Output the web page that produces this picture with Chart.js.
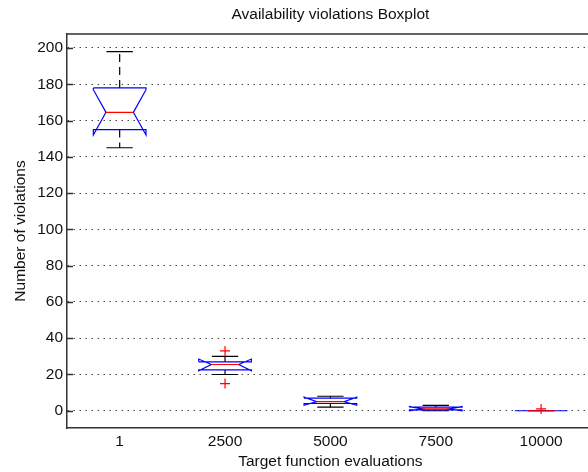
<!DOCTYPE html>
<html>
<head>
<meta charset="utf-8">
<script src="https://cdn.jsdelivr.net/npm/chart.js@4/dist/chart.umd.min.js"></script>
<style>
  html, body { margin: 0; padding: 0; background: #fff; overflow: hidden; }
  #wrap { width: 600px; height: 472px; }
</style>
</head>
<body>
<div id="wrap"><canvas id="boxChart"></canvas></div>
<script>
// group labels and positions along x
const categories = ['1', '2500', '5000', '7500', '10000'];
const positions = [1, 2, 3, 4, 5];

// box statistics for each group
const whiskerLow  = [145, 20, 2, 0, 0];
const q1          = [155, 22.5, 4, 0.5, 0];
const median      = [164.5, 25.5, 5, 1, 0];
const q3          = [178, 27, 7, 2, 0];
const whiskerHigh = [198, 30, 8, 3, 0];
const notchLow    = [152, 22, 3, 0, 0];
const notchHigh   = [177, 28.5, 7.5, 2.3, 0];
const outliers    = [[], [33, 15], [], [], [1]];

const yTicks = [0, 20, 40, 60, 80, 100, 120, 140, 160, 180, 200];

const boxHalf = 0.25, notchHalf = 0.13, capHalf = 0.125;
const FONT = "'Liberation Sans', Arial, sans-serif";
const FSIZE = 15.5;

// notched box outline, one closed path per group, split by null points
const boxPts = [];
const medPts = [];
const whiskPts = [];
const capPts = [];
const outPts = [];
positions.forEach((x, i) => {
    const l = x - boxHalf, r = x + boxHalf;
    const nl = x - notchHalf, nr = x + notchHalf;
    boxPts.push(
        {x: l, y: q3[i]}, {x: l, y: notchHigh[i]}, {x: nl, y: median[i]},
        {x: l, y: notchLow[i]}, {x: l, y: q1[i]}, {x: r, y: q1[i]},
        {x: r, y: notchLow[i]}, {x: nr, y: median[i]}, {x: r, y: notchHigh[i]},
        {x: r, y: q3[i]}, {x: l, y: q3[i]}, {x: x, y: null}
    );
    medPts.push({x: nl, y: median[i]}, {x: nr, y: median[i]}, {x: x, y: null});
    whiskPts.push(
        {x: x, y: q3[i]}, {x: x, y: whiskerHigh[i]}, {x: x, y: null},
        {x: x, y: q1[i]}, {x: x, y: whiskerLow[i]}, {x: x, y: null}
    );
    capPts.push(
        {x: x - capHalf, y: whiskerHigh[i]}, {x: x + capHalf, y: whiskerHigh[i]}, {x: x, y: null},
        {x: x - capHalf, y: whiskerLow[i]}, {x: x + capHalf, y: whiskerLow[i]}, {x: x, y: null}
    );
    outliers[i].forEach(v => outPts.push({x: x, y: v}));
});

function lineSet(data, color, order, dash) {
    return {
        type: 'line', data: data, borderColor: color, borderWidth: 1.2,
        borderDash: dash || [], pointRadius: 0, tension: 0, spanGaps: false,
        fill: false, order: order
    };
}

// axes frame: top edge plus inward tick marks on the left
const framePlugin = {
    id: 'frame',
    afterDraw(chart) {
        const {ctx, chartArea, scales} = chart;
        ctx.save();
        ctx.strokeStyle = '#333';
        ctx.lineWidth = 1.5;
        ctx.beginPath();
        ctx.moveTo(chartArea.left, chartArea.top);
        ctx.lineTo(chartArea.right, chartArea.top);
        yTicks.forEach(v => {
            const y = Math.round(scales.y.getPixelForValue(v)) + 0.5;
            ctx.moveTo(chartArea.left, y);
            ctx.lineTo(chartArea.left + 6, y);
        });
        ctx.stroke();
        ctx.restore();
    }
};

const ctx = document.getElementById('boxChart').getContext('2d');
new Chart(ctx, {
    type: 'line',
    data: {
        datasets: [
            lineSet(whiskPts, '#000', 5, [8, 5]),
            lineSet(capPts, '#000', 4),
            lineSet(boxPts, '#0000ff', 3),
            lineSet(medPts, '#ff0000', 2),
            {
                type: 'scatter', data: outPts, pointStyle: 'cross', pointRadius: 5,
                borderColor: '#ff0000', backgroundColor: '#ff0000', borderWidth: 1.2, order: 1
            }
        ]
    },
    options: {
        responsive: true,
        maintainAspectRatio: false,
        animation: false,
        layout: { padding: { right: 4 } },
        scales: {
            x: {
                type: 'linear', min: 0.5, max: 5.5,
                afterBuildTicks: s => { s.ticks = positions.map(v => ({value: v})); },
                afterFit: s => { s.height = 44; },
                grid: { display: false, drawTicks: false },
                border: { color: '#333', width: 1.5 },
                ticks: {
                    color: '#111', padding: 4.7, maxRotation: 0,
                    font: { family: FONT, size: FSIZE },
                    callback: (v) => categories[positions.indexOf(v)]
                },
                title: {
                    display: true, text: 'Target function evaluations', color: '#111',
                    font: { family: FONT, size: FSIZE }, padding: { top: 0, bottom: 0.7 }
                }
            },
            y: {
                type: 'linear', min: -9.5, max: 207.7,
                afterBuildTicks: s => { s.ticks = yTicks.map(v => ({value: v})); },
                afterFit: s => { s.width = 67; },
                grid: { color: '#444', lineWidth: 1, drawTicks: false },
                border: { color: '#333', width: 1.5, dash: [1.5, 4.5] },
                ticks: {
                    color: '#111', padding: 4,
                    font: { family: FONT, size: FSIZE }
                },
                title: {
                    display: true, text: 'Number of violations', color: '#111',
                    font: { family: FONT, size: FSIZE }, padding: { top: 11.7, bottom: 0 }
                }
            }
        },
        plugins: {
            legend: { display: false },
            tooltip: { enabled: false },
            title: {
                display: true, fullSize: false,
                text: 'Availability violations Boxplot', color: '#111',
                font: { family: FONT, size: FSIZE, weight: 'normal' },
                padding: { top: 5.7, bottom: 9.7 }
            }
        }
    },
    plugins: [framePlugin]
});
</script>
</body>
</html>
